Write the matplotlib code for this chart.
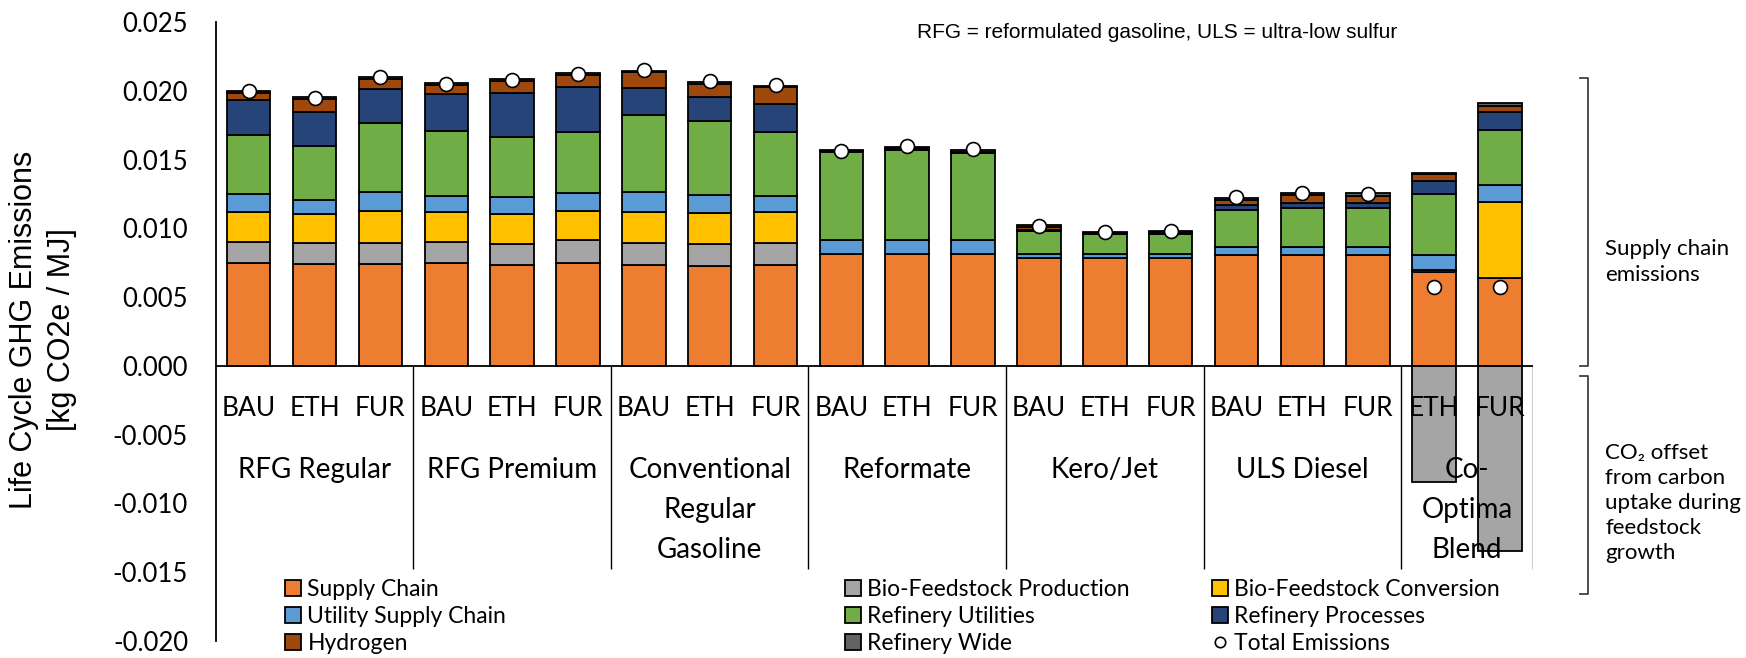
import numpy as np
import matplotlib
matplotlib.use("Agg")
import matplotlib.pyplot as plt
from matplotlib.lines import Line2D
from matplotlib.patches import Patch
from matplotlib.ticker import FuncFormatter

# ---- data (kg CO2e / MJ), one value per bar ----
scenarios = ["BAU", "ETH", "FUR"] * 6 + ["ETH", "FUR"]
groups = ["RFG Regular", "RFG Premium", "Conventional\nRegular\nGasoline",
          "Reformate", "Kero/Jet", "ULS Diesel", "Co-\nOptima\nBlend"]
group_sizes = [3, 3, 3, 3, 3, 3, 2]

supply_chain = [0.00750, 0.00742, 0.00738, 0.00747, 0.00730, 0.00750, 0.00730, 0.00723, 0.00735,
                0.00815, 0.00815, 0.00815, 0.00784, 0.00784, 0.00784, 0.00808, 0.00808, 0.00808,
                0.00680, 0.00638]
bio_feedstock_production = [0.00154, 0.00153, 0.00157, 0.00153, 0.00158, 0.00162, 0.00162, 0.00165, 0.00157,
                            0, 0, 0, 0, 0, 0, 0, 0, 0,
                            -0.00844, -0.01347]
bio_feedstock_conversion = [0.00213, 0.00210, 0.00230, 0.00217, 0.00217, 0.00213, 0.00225, 0.00227, 0.00230,
                            0, 0, 0, 0, 0, 0, 0, 0, 0,
                            0.00019, 0.00557]
utility_supply_chain = [0.00133, 0.00104, 0.00137, 0.00119, 0.00121, 0.00130, 0.00145, 0.00128, 0.00116,
                        0.00097, 0.00097, 0.00097, 0.00031, 0.00031, 0.00031, 0.00055, 0.00055, 0.00055,
                        0.00109, 0.00121]
refinery_utilities = [0.00431, 0.00387, 0.00501, 0.00469, 0.00435, 0.00443, 0.00561, 0.00537, 0.00465,
                      0.00645, 0.00658, 0.00638, 0.00169, 0.00145, 0.00145, 0.00271, 0.00283, 0.00283,
                      0.00442, 0.00399]
refinery_processes = [0.00251, 0.00252, 0.00247, 0.00268, 0.00320, 0.00331, 0.00199, 0.00176, 0.00198,
                      0.00003, 0.00005, 0.00003, 0.00005, 0.00003, 0.00003, 0.00032, 0.00037, 0.00037,
                      0.00095, 0.00128]
hydrogen = [0.00053, 0.00089, 0.00072, 0.00071, 0.00092, 0.00087, 0.00111, 0.00092, 0.00123,
            0.00003, 0.00008, 0.00005, 0.00022, 0.00004, 0.00007, 0.00041, 0.00060, 0.00053,
            0.00050, 0.00046]
refinery_wide = [0.00012, 0.00017, 0.00018, 0.00012, 0.00010, 0.00010, 0.00012, 0.00017, 0.00012,
                 0.00010, 0.00010, 0.00010, 0.00010, 0.00005, 0.00007, 0.00017, 0.00017, 0.00019,
                 0.00010, 0.00019]
total_emissions = [0.0200, 0.0195, 0.0210, 0.0205, 0.0208, 0.0212, 0.0215, 0.0207, 0.0204,
                   0.01565, 0.0160, 0.01574, 0.0102, 0.0097, 0.0098, 0.01226, 0.0126, 0.0125,
                   0.00573, 0.00573]

series = [
    ("Supply Chain", supply_chain, "#ED7D31"),
    ("Bio-Feedstock Production", bio_feedstock_production, "#A5A5A5"),
    ("Bio-Feedstock Conversion", bio_feedstock_conversion, "#FFC000"),
    ("Utility Supply Chain", utility_supply_chain, "#5B9BD5"),
    ("Refinery Utilities", refinery_utilities, "#70AD47"),
    ("Refinery Processes", refinery_processes, "#264478"),
    ("Hydrogen", hydrogen, "#9E480E"),
    ("Refinery Wide", refinery_wide, "#636363"),
]

W, H = 1746, 658
fig = plt.figure(figsize=(W / 100, H / 100), dpi=100)
ax = fig.add_axes([215.8 / W, 1 - 641 / H, (1532.8 - 215.8) / W, (641 - 22) / H])

x = np.arange(len(scenarios))
pos_bottom = np.zeros(len(x))
neg_bottom = np.zeros(len(x))
handles = {}
for name, vals, col in series:
    v = np.array(vals, dtype=float)
    bottom = np.where(v >= 0, pos_bottom, neg_bottom)
    ax.bar(x, v, 0.66, bottom=bottom, color=col, edgecolor="black", linewidth=1.3, zorder=2)
    pos_bottom += np.clip(v, 0, None)
    neg_bottom += np.clip(v, None, 0)
    handles[name] = Patch(facecolor=col, edgecolor="black", linewidth=1.3)

ax.plot(x, total_emissions, "o", ms=10, mfc="white", mec="black", mew=1.2, zorder=5)
handles["Total Emissions"] = Line2D([], [], ls="none", marker="o", ms=7.5,
                                    mfc="white", mec="black", mew=1.2)

ax.set_xlim(-0.5, 19.5)
ax.set_ylim(-0.020, 0.025)
for s in ["top", "right", "bottom"]:
    ax.spines[s].set_visible(False)
ax.spines["left"].set_linewidth(1.3)
ax.axhline(0, color="black", lw=1.3, zorder=4)

ax.set_xticks([])
ax.set_yticks(np.arange(-0.020, 0.0251, 0.005))
ax.yaxis.set_major_formatter(FuncFormatter(lambda v, p: f"{0 if abs(v) < 1e-9 else v:.3f}"))
ax.tick_params(axis="y", length=0, pad=20, labelsize=18.5)
for t in ax.get_yticklabels():
    t.set_family("Lato")

# category labels and group separators
edges = np.cumsum(group_sizes) - 0.5
ax.vlines(edges, -0.0148, 0, color="black", lw=1.0, zorder=3)
for xi, s in zip(x, scenarios):
    ax.text(xi, -0.0031, s, ha="center", va="center", fontsize=19, family="Lato", zorder=6)
start = 0
for g, n in zip(groups, group_sizes):
    ax.text(start + (n - 1) / 2, -0.0066, g, ha="center", va="top", fontsize=20,
            family="Lato", linespacing=1.68, zorder=6)
    start += n

fig.text(43 / W, 1 - 330 / H, "Life Cycle GHG Emissions\n[kg CO2e / MJ]", rotation=90,
         ha="center", va="center", fontsize=22, family="Liberation Sans",
         linespacing=1.35, multialignment="center")
fig.text(1157 / W, 1 - 32 / H, "RFG = reformulated gasoline, ULS = ultra-low sulfur",
         ha="center", va="center", fontsize=15, family="Liberation Sans")

# legend, laid out in three columns like the original
cols = [["Supply Chain", "Utility Supply Chain", "Hydrogen"],
        ["Bio-Feedstock Production", "Refinery Utilities", "Refinery Wide"],
        ["Bio-Feedstock Conversion", "Refinery Processes", "Total Emissions"]]
col_x = [285, 845, 1212]
for names, cx in zip(cols, col_x):
    fig.legend([handles[n] for n in names], names, loc="upper left",
               bbox_to_anchor=(cx / W, 1 - 579 / H), bbox_transform=fig.transFigure,
               frameon=False, borderpad=0, borderaxespad=0, handlelength=0.68,
               handleheight=0.68, handletextpad=0.3, labelspacing=0.27,
               prop={"family": "Lato", "size": 16.5})

# right-hand brackets and notes
bx = 1588
for y0, y1 in [(78, 366), (376, 594)]:
    fig.add_artist(Line2D([(bx - 8) / W, bx / W, bx / W, (bx - 8) / W],
                          [1 - y0 / H, 1 - y0 / H, 1 - y1 / H, 1 - y1 / H],
                          color="#404040", lw=1.3, transform=fig.transFigure))
fig.text(1605 / W, 1 - 262 / H, "Supply chain\nemissions", ha="left", va="center",
         fontsize=16, family="Lato", linespacing=1.35)
fig.text(1605 / W, 1 - 503 / H, "CO\u2082 offset\nfrom carbon\nuptake during\nfeedstock\ngrowth",
         ha="left", va="center", fontsize=16, family=["Lato", "DejaVu Sans"], linespacing=1.3)

fig.savefig("out.png", dpi=100)
